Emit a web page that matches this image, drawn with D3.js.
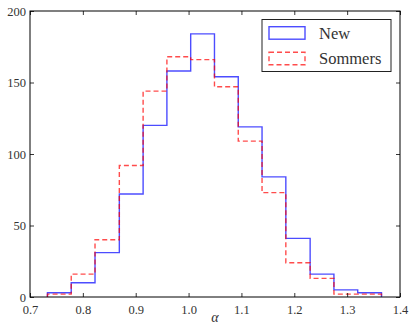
<!DOCTYPE html>
<html>
<head>
<meta charset="utf-8">
<script src="https://cdn.jsdelivr.net/npm/d3@7"></script>
<style>
  html, body { margin: 0; padding: 0; background: #fff; }
  svg { display: block; }
</style>
</head>
<body>
<svg id="chart" width="415" height="327"></svg>
<script>
// ---- data ----
const binEdges = [0.733, 0.778, 0.823, 0.869, 0.914, 0.959, 1.004, 1.049, 1.094, 1.139, 1.184, 1.230, 1.275, 1.320, 1.365];
const newCounts = [3, 10, 31, 72, 120, 158, 184, 154, 119, 84, 41, 16, 5, 3];
const sommersCounts = [2, 16, 40, 92, 144, 168, 166, 147, 109, 73, 24, 13, 2, 2];
const xTicks = [0.7, 0.8, 0.9, 1.0, 1.1, 1.2, 1.3, 1.4];
const yTicks = [0, 50, 100, 150, 200];
const seriesNames = ["New", "Sommers"];

// ---- layout ----
const W = 415, H = 327;
const m = { left: 30, right: 15, top: 11, bottom: 30 };
const svg = d3.select("#chart");
const x = d3.scaleLinear().domain([0.7, 1.4]).range([m.left, W - m.right]);
const y = d3.scaleLinear().domain([0, 200]).range([H - m.bottom, m.top]);
const font = "'Liberation Serif', 'DejaVu Serif', serif";
const textColor = "#333";

function stepPoints(counts) {
  const pts = [[binEdges[0], 0]];
  counts.forEach((c, i) => {
    pts.push([binEdges[i], c]);
    pts.push([binEdges[i + 1], c]);
  });
  pts.push([binEdges[binEdges.length - 1], 0]);
  return pts;
}
const line = d3.line().x(d => x(d[0])).y(d => y(d[1]));

const series = [
  { name: seriesNames[0], counts: newCounts, color: "#0000ff", dash: null },
  { name: seriesNames[1], counts: sommersCounts, color: "#ff0000", dash: "5,3" }
];

const plot = svg.append("g");
series.forEach(s => {
  plot.append("path")
    .attr("d", line(stepPoints(s.counts)))
    .attr("fill", "none")
    .attr("stroke", s.color)
    .attr("stroke-opacity", 0.7)
    .attr("stroke-width", 1.4)
    .attr("stroke-dasharray", s.dash);
});

// ---- axes (ticks inward on all four sides) ----
const tickLen = 4;
const bottomAxis = d3.axisBottom(x).tickValues(xTicks).tickSize(-tickLen).tickPadding(8).tickFormat(d3.format(".1f"));
const topAxis = d3.axisTop(x).tickValues(xTicks).tickSize(-tickLen).tickFormat("");
const leftAxis = d3.axisLeft(y).tickValues(yTicks).tickSize(-tickLen).tickPadding(4).tickFormat(d3.format("d"));
const rightAxis = d3.axisRight(y).tickValues(yTicks).tickSize(-tickLen).tickFormat("");

function styleAxis(g) {
  g.select(".domain").remove();
  g.selectAll(".tick line").attr("stroke", "#000").attr("stroke-width", 0.8);
  g.selectAll(".tick text").attr("fill", textColor).style("font-family", font).style("font-size", "12.5px");
}
svg.append("g").attr("transform", `translate(0,${H - m.bottom})`).call(bottomAxis).call(styleAxis);
svg.append("g").attr("transform", `translate(0,${m.top})`).call(topAxis).call(styleAxis);
svg.append("g").attr("transform", `translate(${m.left},0)`).call(leftAxis).call(styleAxis);
svg.append("g").attr("transform", `translate(${W - m.right},0)`).call(rightAxis).call(styleAxis);

// frame
svg.append("rect")
  .attr("x", m.left).attr("y", m.top)
  .attr("width", W - m.left - m.right).attr("height", H - m.top - m.bottom)
  .attr("fill", "none").attr("stroke", "#000").attr("stroke-width", 1);

// x label
svg.append("text")
  .attr("x", (m.left + W - m.right) / 2).attr("y", 322)
  .attr("text-anchor", "middle")
  .attr("fill", textColor)
  .style("font-family", font).style("font-style", "italic").style("font-size", "14px")
  .text("α");

// ---- legend ----
const lg = svg.append("g");
lg.append("rect")
  .attr("x", 262).attr("y", 19.5).attr("width", 129).attr("height", 52)
  .attr("fill", "#fff").attr("stroke", "#222").attr("stroke-width", 1);
series.forEach((s, i) => {
  const cy = 33 + i * 25.5;
  lg.append("rect")
    .attr("x", 269).attr("y", cy - 6.3).attr("width", 36).attr("height", 12.5)
    .attr("fill", "none")
    .attr("stroke", s.color).attr("stroke-opacity", 0.7).attr("stroke-width", 1.4)
    .attr("stroke-dasharray", s.dash);
  lg.append("text")
    .attr("x", 319).attr("y", cy + 5.5)
    .attr("fill", textColor)
    .style("font-family", font).style("font-size", "16.5px")
    .text(s.name);
});
</script>
</body>
</html>
